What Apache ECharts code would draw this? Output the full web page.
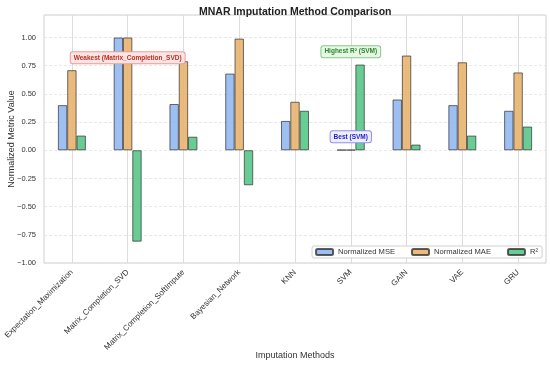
<!DOCTYPE html>
<html><head><meta charset="utf-8">
<script src="https://cdn.jsdelivr.net/npm/echarts@6/dist/echarts.min.js"></script>
<style>html,body{margin:0;padding:0;background:#fff}#c{width:550px;height:365px}</style>
</head><body><div id="c"></div>
<script>
const categories = ['Expectation_Maximization','Matrix_Completion_SVD','Matrix_Completion_SoftImpute','Bayesian_Network','KNN','SVM','GAIN','VAE','GRU'];
const mseValues = [0.40, 1.00, 0.41, 0.68, 0.26, 0.004, 0.45, 0.40, 0.35];
const maeValues = [0.71, 1.00, 0.79, 0.99, 0.43, 0.004, 0.84, 0.78, 0.69];
const r2Values  = [0.13, -0.81, 0.12, -0.31, 0.35, 0.76, 0.05, 0.13, 0.21];
const yTicks = {min: -1, max: 1.2, interval: 0.25};
const annotations = [
  {text: 'Weakest (Matrix_Completion_SVD)', cat: 'Matrix_Completion_SVD', y: 0.82, color: '#b83224', bg: '#fde4e4', border: '#ee9a9a'},
  {text: 'Highest R² (SVM)', cat: 'SVM', y: 0.875, color: '#2b8a2b', bg: '#e8f6e8', border: '#86c886'},
  {text: 'Best (SVM)', cat: 'SVM', y: 0.12, color: '#2323c8', bg: '#eeeefd', border: '#8f8ff0'}
];

const chart = echarts.init(document.getElementById('c'), null, {renderer: 'canvas'});
const font = 'Liberation Sans, Arial, sans-serif';
const edge = 'rgba(40,40,40,0.75)';
function barSeries(name, data, color, extra) {
  return Object.assign({
    name, type: 'bar', data, barWidth: 9.3, barGap: '0%',
    itemStyle: {color, borderColor: edge, borderWidth: 0.9},
    z: 2
  }, extra || {});
}
const option = {
  animation: false,
  backgroundColor: '#fff',
  title: {text: 'MNAR Imputation Method Comparison', left: 194, top: 2,
    textStyle: {fontFamily: font, fontSize: 10.5, fontWeight: 'bold', color: '#222'}},
  grid: {left: 44, right: 4, top: 15, bottom: 102, show: true, borderColor: '#cfcfcf', borderWidth: 1,
    outerBoundsMode: 'none', containLabel: false},
  legend: {
    right: 8, bottom: 107, orient: 'horizontal', itemWidth: 17, itemHeight: 6, itemGap: 16,
    backgroundColor: '#fff', borderColor: '#d0d0d0', borderWidth: 1, borderRadius: 2, padding: [2, 4, 2, 3],
    textStyle: {fontFamily: font, fontSize: 7.6, color: '#333'},
    data: ['Normalized MSE', 'Normalized MAE', 'R²']
  },
  xAxis: {
    type: 'category', data: categories,
    name: 'Imputation Methods', nameLocation: 'middle', nameGap: 88, nameMoveOverlap: false,
    nameTextStyle: {fontFamily: font, fontSize: 9, color: '#333'},
    axisLine: {show: false}, axisTick: {show: false, alignWithLabel: true},
    axisLabel: {rotate: 45, fontFamily: font, fontSize: 8, color: '#333', margin: 8, interval: 0},
    splitLine: {show: true, alignWithLabel: true, lineStyle: {color: '#dcdcdc', width: 1}}
  },
  yAxis: {
    type: 'value', min: yTicks.min, max: yTicks.max, interval: yTicks.interval,
    name: 'Normalized Metric Value', nameLocation: 'middle', nameGap: 28, nameMoveOverlap: false,
    nameTextStyle: {fontFamily: font, fontSize: 9, color: '#333'},
    axisLine: {show: false}, axisTick: {show: false},
    axisLabel: {fontFamily: font, fontSize: 7.5, color: '#333', margin: 8, showMaxLabel: false,
      formatter: v => (v < 0 ? '\u2212' + Math.abs(v).toFixed(2) : v.toFixed(2))},
    splitLine: {show: true, lineStyle: {color: '#e2e2e2', width: 0.8, type: [3, 2]}}
  },
  series: [
    barSeries('Normalized MSE', mseValues, 'rgba(140,180,240,0.85)'),
    barSeries('Normalized MAE', maeValues, 'rgba(232,180,110,0.9)', {
      markPoint: {
        symbol: 'rect', symbolSize: 1, itemStyle: {color: 'rgba(0,0,0,0)'},
        silent: true, z: 5,
        data: annotations.map(a => ({
          coord: [a.cat, a.y],
          label: {show: true, position: 'inside', formatter: a.text, fontFamily: font, fontSize: 6.5, fontWeight: 'bold',
            color: a.color, backgroundColor: a.bg, borderColor: a.border, borderWidth: 1, borderRadius: 2,
            padding: [2, 3, 2, 3]}
        }))
      }
    }),
    barSeries('R²', r2Values, 'rgba(80,195,130,0.85)')
  ]
};
chart.setOption(option);
</script></body></html>
